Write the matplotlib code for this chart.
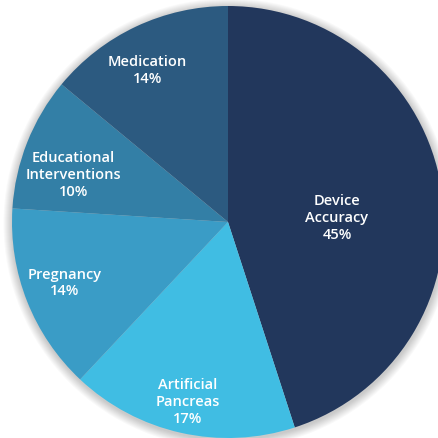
import matplotlib.pyplot as plt
import matplotlib.patches as mpatches
import numpy as np

# Data
categories = ['Device\nAccuracy', 'Artificial\nPancreas', 'Pregnancy', 'Educational\nInterventions', 'Medication']
shares = [45, 17, 14, 10, 14]
colors = ['#22375c', '#40bde3', '#3a9cc6', '#337fa6', '#2c5a80']
# label placement: fraction of radius, angle shift from wedge middle (deg)
label_radius = [0.505, 0.85, 0.805, 0.75, 0.80]
label_shift = [-6.4, 0.0, -1.4, 4.4, 2.7]

fig = plt.figure(figsize=(4.39, 4.39), dpi=100)
ax = fig.add_axes([0, 0, 1, 1])

cx, cy, r = 228, 216, 216

# soft drop shadow around the pie
for k in range(1, 10):
    ax.add_patch(mpatches.Circle((cx + 0.5, cy - 1.5), r + k, color='black',
                                 alpha=0.025, lw=0, zorder=0))

wedges, _ = ax.pie(shares, colors=colors, startangle=90, counterclock=False,
                   center=(cx, cy), radius=r, frame=True,
                   wedgeprops=dict(linewidth=0))
ax.set_xlim(0, 439)
ax.set_ylim(0, 439)
ax.set_aspect('equal')
ax.axis('off')

for w, cat, val, lr, sh in zip(wedges, categories, shares, label_radius, label_shift):
    mid = np.deg2rad((w.theta1 + w.theta2) / 2 + sh)
    x = cx + lr * r * np.cos(mid)
    y = cy + lr * r * np.sin(mid)
    ax.text(x, y, f'{cat}\n{val}%', ha='center', va='center', color='white',
            fontsize=10.5, family='Open Sans', fontweight='semibold', linespacing=1.25)

fig.savefig('out.png', dpi=100)
